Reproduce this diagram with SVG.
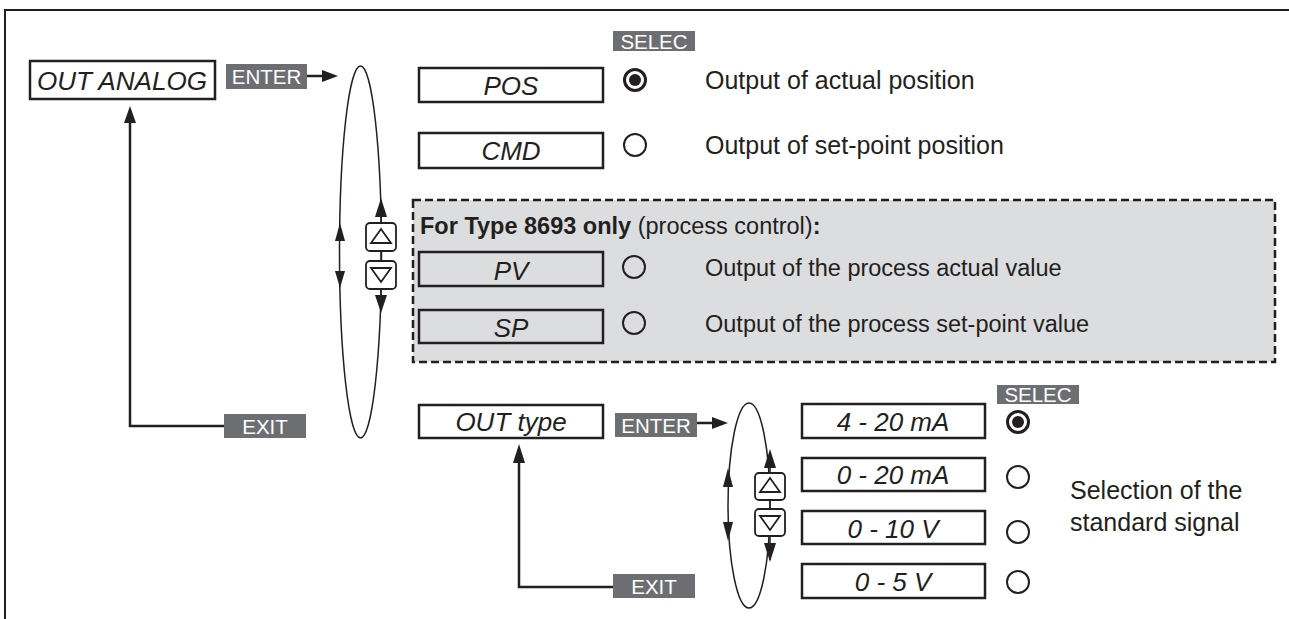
<svg xmlns="http://www.w3.org/2000/svg" width="1289" height="619" viewBox="0 0 1289 619">
<style>
.box{fill:#fff;stroke:#231f20;stroke-width:2.5}
.gbox{fill:#dcddde;stroke:#231f20;stroke-width:2.5}
.bt{font-family:"Liberation Sans",Arial,sans-serif;font-style:italic;font-size:26px;fill:#231f20;text-anchor:middle}
.tx{font-family:"Liberation Sans",Arial,sans-serif;font-size:25px;fill:#231f20}
.tx2{font-family:"Liberation Sans",Arial,sans-serif;font-size:23.5px;fill:#231f20}
.lab{fill:#6d6e71}
.lt{font-family:"Liberation Sans",Arial,sans-serif;font-size:20.5px;fill:#fff;text-anchor:middle}
.rad{fill:none;stroke:#231f20;stroke-width:2}
.rads{fill:none;stroke:#231f20;stroke-width:3}
.con{fill:none;stroke:#231f20;stroke-width:2.5}
.loop{fill:none;stroke:#231f20;stroke-width:1.5}
.btn{fill:#fff;stroke:#231f20;stroke-width:1.8}
.tri{fill:none;stroke:#231f20;stroke-width:1.8}
.head{fill:#231f20}
</style>
<path d="M5,619 V10 H1289" fill="none" stroke="#231f20" stroke-width="2"/>
<rect x="413" y="200" width="862" height="162" fill="#dcddde" stroke="#231f20" stroke-width="2.5" stroke-dasharray="8,4"/>

<g id="connectors">
<line class="con" x1="307" y1="76" x2="330" y2="76"/>
<polygon class="head" points="338,76 322,70 322,82"/>
<polyline class="con" points="224,426 130,426 130,120"/>
<polygon class="head" points="130,106 124,123 136,123"/>
<line class="con" x1="697" y1="423" x2="720" y2="423"/>
<polygon class="head" points="728,423 712,417 712,429"/>
<polyline class="con" points="613,587 519,587 519,458"/>
<polygon class="head" points="519,444 513,463 525,463"/>
</g>

<g id="loop1">
<ellipse class="loop" cx="360.5" cy="252" rx="21" ry="186"/>
<polygon class="head" points="340,223 335,241 345,241"/>
<polygon class="head" points="340,288 335,271 345,271"/>
<line class="loop" x1="381" y1="200" x2="381" y2="310"/>
<polygon class="head" points="381,198 375,217 387,217"/>
<polygon class="head" points="381,313 375,295 387,295"/>
<rect class="btn" x="366" y="223" width="30" height="28" rx="4"/>
<polygon class="tri" points="381,229 371,243 391,243"/>
<rect class="btn" x="366" y="261" width="30" height="28" rx="4"/>
<polygon class="tri" points="381,282 371,268 391,268"/>
</g>

<g id="loop2">
<ellipse class="loop" cx="749" cy="505.5" rx="21" ry="102.5"/>
<polygon class="head" points="728,468 723,487 733,487"/>
<polygon class="head" points="728,541 723,522 733,522"/>
<line class="loop" x1="770" y1="452" x2="770" y2="560"/>
<polygon class="head" points="770,449 764,468 776,468"/>
<polygon class="head" points="770,562 764,543 776,543"/>
<rect class="btn" x="755" y="473" width="30" height="27" rx="4"/>
<polygon class="tri" points="770,478 760,492 780,492"/>
<rect class="btn" x="755" y="509" width="30" height="27" rx="4"/>
<polygon class="tri" points="770,530 760,516 780,516"/>
</g>

<g id="out-analog">
<rect class="box" x="30" y="61" width="185" height="38"/>
<text class="bt" x="122" y="90" font-size="26.5" textLength="170" lengthAdjust="spacingAndGlyphs">OUT ANALOG</text>
</g>
<g id="enter1"><rect class="lab" x="226" y="64" width="81" height="25"/><text class="lt" x="266.5" y="84">ENTER</text></g>
<g id="exit1"><rect class="lab" x="224" y="414" width="82" height="24"/><text class="lt" x="265" y="434">EXIT</text></g>
<g id="selec1"><rect class="lab" x="613" y="31" width="82" height="20"/><text class="lt" x="654" y="49">SELEC</text></g>

<g id="pos">
<rect class="box" x="419" y="68" width="184" height="34"/>
<text class="bt" x="511" y="95">POS</text>
<circle class="rads" cx="635" cy="80" r="10.5"/><circle class="head" cx="635" cy="80" r="6"/>
<text class="tx" x="705" y="89">Output of actual position</text>
</g>
<g id="cmd">
<rect class="box" x="419" y="133" width="184" height="35"/>
<text class="bt" x="511" y="160">CMD</text>
<circle class="rad" cx="635" cy="145" r="11"/>
<text class="tx" x="705" y="154">Output of set-point position</text>
</g>

<g id="type8693">
<text class="tx2" x="420" y="234"><tspan font-weight="bold">For Type 8693 only</tspan> (process control)<tspan font-weight="bold">:</tspan></text>
</g>
<g id="pv">
<rect class="gbox" x="419" y="252" width="184" height="34"/>
<text class="bt" x="511" y="280">PV</text>
<circle class="rad" cx="634" cy="267" r="11"/>
<text class="tx2" x="705" y="276">Output of the process actual value</text>
</g>
<g id="sp">
<rect class="gbox" x="419" y="310" width="184" height="33"/>
<text class="bt" x="511" y="337">SP</text>
<circle class="rad" cx="634" cy="323" r="11"/>
<text class="tx2" x="705" y="332">Output of the process set-point value</text>
</g>

<g id="out-type">
<rect class="box" x="419" y="405" width="184" height="33"/>
<text class="bt" x="511" y="431">OUT type</text>
</g>
<g id="enter2"><rect class="lab" x="615" y="413" width="82" height="24"/><text class="lt" x="656" y="433">ENTER</text></g>
<g id="exit2"><rect class="lab" x="613" y="574" width="82" height="24"/><text class="lt" x="654" y="594">EXIT</text></g>
<g id="selec2"><rect class="lab" x="997" y="385" width="82" height="19"/><text class="lt" x="1038" y="402">SELEC</text></g>

<g id="ma420">
<rect class="box" x="802" y="404" width="183" height="34"/>
<text class="bt" x="893" y="431">4 - 20 mA</text>
<circle class="rads" cx="1018" cy="422" r="10.5"/><circle class="head" cx="1018" cy="422" r="6"/>
</g>
<g id="ma020">
<rect class="box" x="802" y="458" width="183" height="33"/>
<text class="bt" x="893" y="484">0 - 20 mA</text>
<circle class="rad" cx="1018" cy="477" r="11"/>
</g>
<g id="v010">
<rect class="box" x="802" y="511" width="183" height="33"/>
<text class="bt" x="893" y="538">0 - 10 V</text>
<circle class="rad" cx="1018" cy="532" r="11"/>
</g>
<g id="v05">
<rect class="box" x="802" y="564" width="183" height="34"/>
<text class="bt" x="893" y="591">0 - 5 V</text>
<circle class="rad" cx="1018" cy="582" r="11"/>
</g>
<g id="note">
<text class="tx" x="1070" y="499" font-size="25.5">Selection of the</text>
<text class="tx" x="1070" y="531" font-size="25.5">standard signal</text>
</g>
</svg>
